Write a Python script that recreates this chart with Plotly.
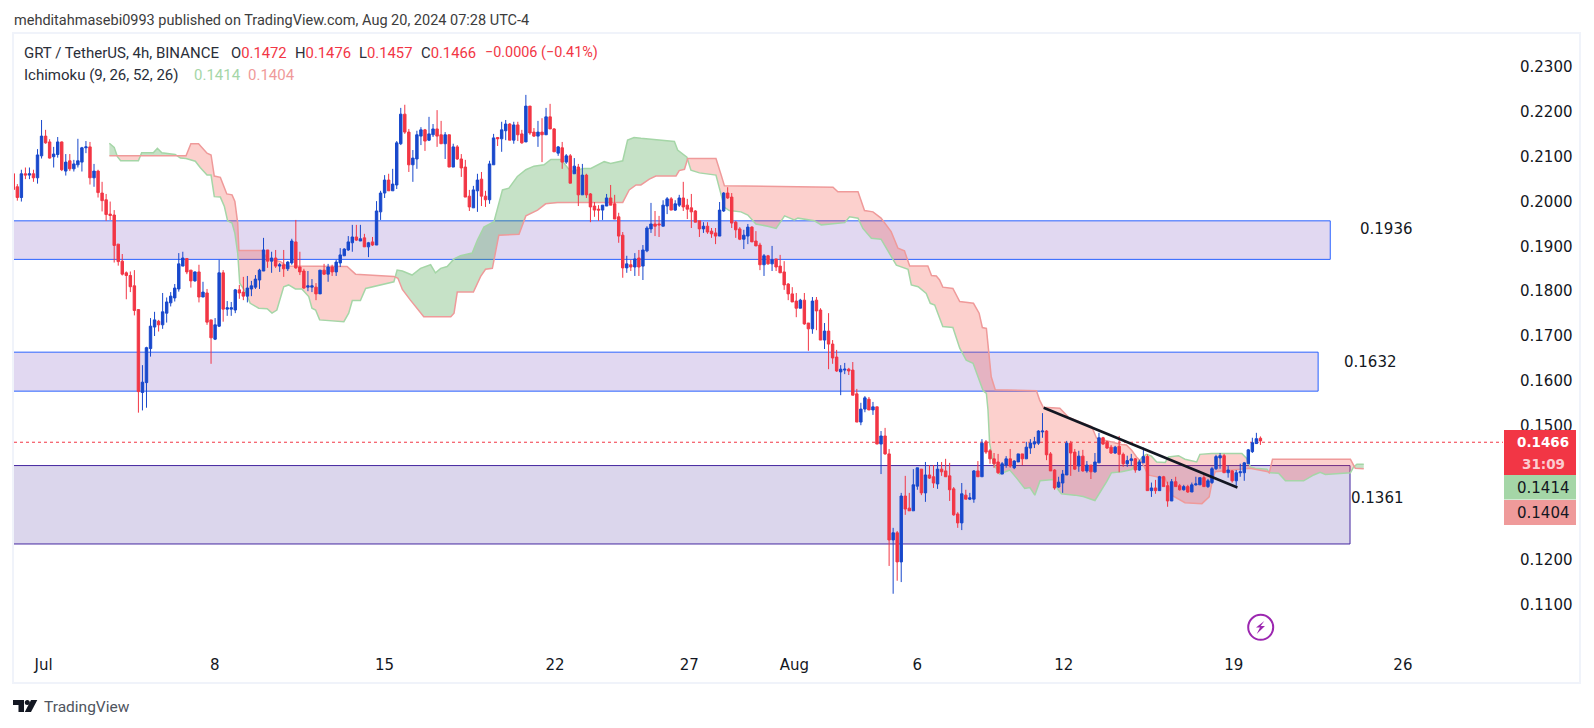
#!/usr/bin/env python3
# GRT / USDT 4h chart with Ichimoku cloud and three marked zones
import numpy as np
import plotly.graph_objects as go

# =============================================================================
# CANDLES
# =============================================================================
opens = [
    .2062,.2033,.2009,.2062,.2059,.2062,.2053,.2102,.2146,.2133,
    .2100,.2105,.2133,.2068,.2091,.2073,.2082,.2088,.2120,.2122,
    .2053,.2068,.2019,.2004,.1972,.1970,.1905,.1867,.1841,.1835,
    .1812,.1759,.1574,.1596,.1672,.1720,.1733,.1725,.1751,.1774,
    .1785,.1805,.1856,.1873,.1847,.1823,.1843,.1787,.1796,.1736,
    .1693,.1722,.1841,.1760,.1760,.1758,.1803,.1798,.1789,.1805,
    .1809,.1825,.1845,.1892,.1867,.1874,.1856,.1859,.1850,.1863,
    .1910,.1854,.1845,.1809,.1809,.1809,.1794,.1847,.1838,.1854,
    .1843,.1863,.1879,.1892,.1908,.1921,.1912,.1919,.1899,.1910,
    .1903,.1977,.2019,.2048,.2024,.2037,.2129,.2195,.2155,.2082,
    .2095,.2146,.2160,.2137,.2149,.2162,.2149,.2129,.2149,.2077,
    .2122,.2095,.2077,.2012,.1986,.2024,.2050,.2012,.2004,.2082,
    .2143,.2140,.2158,.2173,.2137,.2171,.2151,.2133,.2213,.2155,
    .2146,.2155,.2149,.2189,.2162,.2108,.2120,.2088,.2102,.2062,
    .2077,.2015,.2059,.2017,.1990,.1983,.1981,.1990,.2008,.1995,
    .1966,.1925,.1852,.1859,.1854,.1874,.1856,.1890,.1939,.1950,
    .1950,.1945,.1990,.2006,.1981,.1992,.2008,.1992,.1986,.1979,
    .1957,.1939,.1945,.1934,.1930,.1923,.1979,.2019,.2010,.1954,
    .1939,.1916,.1923,.1943,.1912,.1903,.1859,.1879,.1861,.1872,
    .1856,.1843,.1816,.1794,.1778,.1762,.1780,.1729,.1716,.1780,
    .1758,.1691,.1711,.1682,.1653,.1620,.1624,.1626,.1624,.1571,
    .1508,.1537,.1559,.1535,.1542,.1459,.1477,.1437,.1245,.1261,
    .1196,.1343,.1316,.1310,.1365,.1403,.1350,.1390,.1386,.1370,
    .1403,.1399,.1388,.1359,.1303,.1283,.1345,.1336,.1336,.1399,
    .1386,.1464,.1444,.1426,.1419,.1392,.1412,.1426,.1406,.1419,
    .1437,.1426,.1450,.1459,.1461,.1486,.1488,.1437,.1401,.1363,
    .1372,.1390,.1461,.1441,.1410,.1432,.1399,.1412,.1397,.1417,
    .1473,.1464,.1452,.1439,.1454,.1436,.1415,.1422,.1426,.1401,
    .1417,.1431,.1355,.1361,.1355,.1386,.1366,.1332,.1375,.1366,
    .1357,.1364,.1352,.1368,.1368,.1384,.1364,.1373,.1404,.1428,
    .1433,.1395,.1399,.1377,.1395,.1395,.1415,.1442,.1460,.1472,
]
closes = [
    .2027,.2009,.2062,.2059,.2062,.2053,.2104,.2146,.2131,.2097,
    .2106,.2133,.2071,.2088,.2073,.2084,.2091,.2120,.2122,.2053,
    .2068,.2020,.2002,.1971,.1969,.1902,.1866,.1838,.1835,.1810,
    .1757,.1576,.1597,.1674,.1722,.1736,.1725,.1754,.1776,.1789,
    .1807,.1861,.1874,.1843,.1823,.1843,.1787,.1798,.1731,.1696,
    .1725,.1841,.1760,.1763,.1763,.1803,.1796,.1789,.1807,.1812,
    .1827,.1847,.1892,.1867,.1874,.1856,.1859,.1850,.1865,.1912,
    .1852,.1843,.1807,.1812,.1812,.1794,.1847,.1838,.1854,.1843,
    .1865,.1881,.1894,.1910,.1921,.1914,.1917,.1899,.1908,.1903,
    .1979,.2019,.2048,.2024,.2039,.2131,.2195,.2155,.2082,.2097,
    .2149,.2160,.2135,.2151,.2162,.2146,.2129,.2149,.2077,.2122,
    .2095,.2075,.2010,.1988,.2026,.2048,.2012,.2004,.2084,.2142,
    .2140,.2160,.2173,.2137,.2171,.2149,.2131,.2213,.2153,.2146,
    .2155,.2149,.2189,.2162,.2111,.2122,.2088,.2102,.2041,.2079,
    .2015,.2059,.2015,.1988,.1981,.1981,.1992,.2008,.1992,.1961,
    .1923,.1852,.1861,.1854,.1872,.1854,.1892,.1941,.1950,.1945,
    .1948,.1992,.2006,.1981,.1995,.2008,.1988,.1983,.1977,.1954,
    .1939,.1945,.1932,.1928,.1923,.1981,.2019,.2008,.1952,.1937,
    .1916,.1925,.1943,.1910,.1901,.1859,.1879,.1861,.1870,.1854,
    .1841,.1814,.1794,.1776,.1762,.1780,.1727,.1716,.1778,.1756,
    .1691,.1711,.1682,.1651,.1622,.1626,.1626,.1622,.1568,.1508,
    .1537,.1562,.1535,.1542,.1459,.1477,.1437,.1245,.1261,.1196,
    .1343,.1314,.1310,.1368,.1406,.1350,.1390,.1383,.1372,.1403,
    .1397,.1386,.1357,.1301,.1283,.1348,.1336,.1339,.1399,.1386,
    .1461,.1441,.1426,.1415,.1395,.1415,.1426,.1410,.1421,.1437,
    .1426,.1452,.1461,.1464,.1488,.1488,.1435,.1399,.1361,.1374,
    .1392,.1461,.1439,.1403,.1432,.1399,.1412,.1397,.1419,.1473,
    .1459,.1450,.1439,.1452,.1436,.1415,.1422,.1426,.1401,.1419,
    .1431,.1355,.1361,.1355,.1386,.1364,.1332,.1375,.1364,.1357,
    .1364,.1352,.1368,.1370,.1384,.1364,.1377,.1404,.1431,.1433,
    .1395,.1401,.1377,.1395,.1397,.1417,.1446,.1462,.1471,.1466,
]
highs = [
    .2062,.2039,.2071,.2076,.2076,.2071,.2117,.2182,.2160,.2139,
    .2122,.2144,.2134,.2106,.2106,.2093,.2140,.2122,.2135,.2133,
    .2084,.2071,.2044,.2017,.2000,.1981,.1905,.1883,.1844,.1844,
    .1847,.1760,.1635,.1676,.1740,.1754,.1736,.1796,.1786,.1798,
    .1816,.1885,.1888,.1874,.1847,.1844,.1859,.1821,.1805,.1736,
    .1740,.1870,.1847,.1778,.1776,.1805,.1814,.1832,.1834,.1823,
    .1836,.1850,.1919,.1892,.1888,.1892,.1863,.1892,.1867,.1917,
    .1959,.1888,.1850,.1845,.1827,.1818,.1847,.1861,.1861,.1859,
    .1870,.1896,.1896,.1923,.1948,.1948,.1948,.1928,.1910,.1921,
    .2001,.2024,.2059,.2062,.2073,.2135,.2209,.2216,.2162,.2115,
    .2158,.2166,.2162,.2189,.2173,.2204,.2180,.2155,.2149,.2129,
    .2126,.2106,.2093,.2026,.2035,.2062,.2066,.2024,.2091,.2151,
    .2144,.2178,.2182,.2175,.2178,.2178,.2160,.2238,.2213,.2164,
    .2180,.2186,.2209,.2218,.2164,.2124,.2133,.2106,.2106,.2097,
    .2084,.2084,.2062,.2019,.1999,.1992,.1992,.2017,.2037,.2015,
    .1975,.1932,.1879,.1870,.1885,.1892,.1903,.1945,.1997,.1979,
    .1968,.2003,.2010,.2010,.2003,.2015,.2044,.2006,.2017,.1981,
    .1957,.1954,.1954,.1941,.1941,.1999,.2021,.2032,.2019,.1957,
    .1943,.1937,.1950,.1945,.1934,.1908,.1883,.1881,.1901,.1872,
    .1881,.1867,.1818,.1809,.1796,.1783,.1796,.1729,.1787,.1787,
    .1762,.1729,.1751,.1691,.1669,.1635,.1640,.1629,.1642,.1582,
    .1551,.1566,.1564,.1553,.1542,.1488,.1495,.1448,.1272,.1265,
    .1350,.1388,.1350,.1403,.1406,.1403,.1419,.1412,.1412,.1419,
    .1419,.1426,.1417,.1363,.1307,.1372,.1357,.1350,.1401,.1421,
    .1470,.1468,.1448,.1439,.1437,.1419,.1432,.1448,.1423,.1437,
    .1437,.1464,.1470,.1475,.1490,.1528,.1490,.1441,.1403,.1386,
    .1401,.1466,.1466,.1448,.1444,.1446,.1421,.1412,.1439,.1484,
    .1475,.1466,.1457,.1455,.1477,.1440,.1433,.1437,.1428,.1424,
    .1451,.1436,.1373,.1379,.1388,.1388,.1375,.1381,.1386,.1370,
    .1368,.1368,.1373,.1386,.1384,.1390,.1381,.1408,.1435,.1439,
    .1437,.1410,.1401,.1401,.1415,.1419,.1448,.1473,.1484,.1476,
]
lows = [
    .2026,.2002,.2000,.2050,.2050,.2044,.2040,.2096,.2129,.2096,
    .2076,.2098,.2068,.2058,.2068,.2067,.2076,.2067,.2108,.2038,
    .2033,.2009,.1978,.1957,.1959,.1864,.1857,.1835,.1782,.1798,
    .1746,.1529,.1534,.1540,.1654,.1700,.1710,.1716,.1730,.1766,
    .1777,.1799,.1856,.1838,.1808,.1821,.1775,.1787,.1725,.1638,
    .1691,.1720,.1732,.1745,.1745,.1751,.1783,.1780,.1775,.1789,
    .1805,.1805,.1845,.1852,.1841,.1852,.1843,.1832,.1845,.1859,
    .1850,.1836,.1805,.1800,.1798,.1780,.1794,.1836,.1821,.1834,
    .1834,.1854,.1879,.1890,.1888,.1912,.1912,.1899,.1876,.1901,
    .1903,.1959,.2008,.2024,.2024,.2028,.2126,.2151,.2066,.2044,
    .2073,.2126,.2113,.2135,.2144,.2122,.2129,.2095,.2077,.2077,
    .2093,.2055,.2010,.1979,.1986,.1977,.1990,.1988,.1995,.2082,
    .2124,.2111,.2137,.2137,.2129,.2135,.2129,.2133,.2149,.2144,
    .2122,.2088,.2149,.2162,.2111,.2102,.2073,.2084,.2041,.2062,
    .1990,.2015,.2008,.1954,.1966,.1957,.1959,.1990,.1992,.1961,
    .1908,.1830,.1841,.1845,.1834,.1834,.1825,.1887,.1930,.1923,
    .1921,.1945,.1972,.1981,.1979,.1988,.1979,.1961,.1941,.1954,
    .1921,.1930,.1928,.1919,.1905,.1923,.1977,.2006,.1941,.1919,
    .1914,.1894,.1905,.1910,.1901,.1847,.1834,.1859,.1845,.1845,
    .1841,.1803,.1780,.1776,.1742,.1762,.1725,.1667,.1705,.1713,
    .1691,.1671,.1626,.1638,.1620,.1568,.1615,.1613,.1568,.1508,
    .1501,.1530,.1535,.1524,.1459,.1392,.1435,.1187,.1125,.1154,
    .1151,.1301,.1310,.1310,.1357,.1345,.1330,.1381,.1361,.1359,
    .1388,.1386,.1332,.1299,.1272,.1267,.1336,.1334,.1328,.1386,
    .1386,.1437,.1415,.1406,.1392,.1392,.1406,.1406,.1403,.1419,
    .1412,.1426,.1437,.1450,.1457,.1473,.1423,.1399,.1357,.1361,
    .1350,.1390,.1388,.1401,.1397,.1397,.1395,.1381,.1395,.1417,
    .1457,.1448,.1437,.1437,.1396,.1408,.1408,.1410,.1395,.1399,
    .1417,.1355,.1341,.1348,.1355,.1364,.1319,.1332,.1364,.1355,
    .1355,.1350,.1352,.1366,.1368,.1364,.1361,.1370,.1401,.1404,
    .1395,.1384,.1373,.1366,.1386,.1377,.1415,.1439,.1460,.1457,
]
assert len(opens) == len(closes) == len(highs) == len(lows)

# =============================================================================
# ICHIMOKU LINES (bar number, price)
# =============================================================================
span_a_x = [
    23.8,25,25.8,26.6,31,31.8,34.7,35.7,36.8,40.1,41.4,42.8,45.1,46.3,48,49,49.8,51.3,52.3,53.1,
    54.2,54.9,55.6,56.1,57.5,58.7,60.8,62.9,64.1,65.3,67,68.2,69.9,71.5,73.2,74,74.9,75.9,81.9,83.1,
    84,86,87.3,91,93.1,94.3,95.1,96.4,98.8,100.9,103.4,104.6,105.9,107.5,109.2,110.8,113.7,115,116.6,119.1,
    121.2,122.8,124.9,127,129,131.5,133.2,135.7,138.1,141.4,143.1,146.4,148,151,152.2,153.8,155.5,160.5,163.8,164.6,
    165.8,166.9,167.9,170,174.1,175.4,176.2,177.4,180.3,182,184,186.9,189,191.1,192.3,193.5,194.4,198.5,200.2,206,
    207.2,209.3,210.5,212.6,215,218.8,221.7,222.5,224.2,226.2,227.2,228.3,230.3,232.8,234.5,236.1,237.8,239,240.3,241.1,
    241.5,241.9,242.8,244.4,246.9,248.6,250.6,251.9,253.1,254.4,256.4,257.7,258.9,259.7,263,265.1,268,269.7,270.9,272.1,
    274.6,277.1,278.7,280,280.8,282,283.3,285.4,286.2,288.7,290.3,293.2,294,296.9,302.7,304.4,305.6,306.5,307.7,310.6,
    311.2,313.5,315.2,319.7,322.2,323.8,325.1,329.2,331.3,332.1,332.9,334.6,
]
span_a = [
    .2130,.2121,.2100,.2091,.2091,.2109,.2109,.2119,.2109,.2105,.2097,.2096,.2090,.2076,.2059,.2059,.2011,.2010,.1989,.1957,
    .1952,.1929,.1885,.1818,.1799,.1773,.1762,.1761,.1751,.1758,.1810,.1814,.1805,.1805,.1788,.1762,.1758,.1736,.1732,.1751,
    .1779,.1779,.1806,.1814,.1819,.1821,.1847,.1845,.1836,.1851,.1859,.1841,.1851,.1855,.1872,.1879,.1885,.1914,.1943,.1955,
    .2026,.2030,.2056,.2071,.2079,.2082,.2094,.2094,.2067,.2074,.2074,.2089,.2085,.2091,.2137,.2143,.2141,.2137,.2134,.2115,
    .2106,.2099,.2070,.2064,.2059,.2018,.1987,.1980,.1977,.1970,.1950,.1945,.1940,.1968,.1963,.1959,.1963,.1957,.1948,.1953,
    .1966,.1963,.1940,.1918,.1916,.1858,.1849,.1814,.1810,.1795,.1773,.1769,.1721,.1719,.1673,.1646,.1639,.1609,.1578,.1572,
    .1535,.1461,.1416,.1392,.1401,.1383,.1360,.1362,.1345,.1377,.1379,.1380,.1357,.1348,.1345,.1342,.1333,.1357,.1375,.1395,
    .1397,.1402,.1419,.1432,.1436,.1432,.1419,.1418,.1430,.1433,.1425,.1419,.1436,.1438,.1438,.1438,.1427,.1408,.1405,.1403,
    .1395,.1394,.1377,.1377,.1390,.1396,.1391,.1394,.1395,.1408,.1414,.1414,
]
span_b_x = [
    23.8,42.8,44,45.9,48,49,49.8,51.3,52.9,54.2,54.9,55.6,55.9,61.6,62.9,66.2,67.8,82.7,84.8,91,
    94.3,95.3,96.4,98.4,101.7,108.4,109.2,110,114,115.8,117,118.7,120.3,125.3,127,129.9,131.9,134.8,151,152.6,
    154.3,155.5,157.6,159.2,164.2,165,166.3,167.1,174.1,175.4,176.2,203.1,204.3,209.3,210.9,213,215,217.5,219.2,220.8,
    222.1,226.6,227.5,228.7,229.5,230.3,232.8,234.5,237.9,239.3,240.1,241.1,241.8,242.3,243.3,253.5,254.3,255.2,259.3,261.4,
    265.5,267.2,268.4,270.1,272.2,274.6,275.8,277.1,278.3,279.6,280.4,281.1,285.4,287,290.3,294.5,296.3,297.1,297.8,303.5,
    306.4,310.9,311.2,312,331.3,332.5,334.6,
]
span_b = [
    .2102,.2102,.2129,.2129,.2108,.2104,.2057,.2054,.2017,.2015,.2000,.1952,.1891,.1891,.1873,.1866,.1856,.1855,.1838,.1834,
    .1833,.1829,.1804,.1780,.1743,.1743,.1751,.1798,.1798,.1833,.1849,.1851,.1925,.1927,.1968,.1981,.1995,.1998,.1998,.2026,
    .2037,.2037,.2050,.2057,.2057,.2069,.2072,.2096,.2096,.2059,.2035,.2032,.2022,.2022,.1980,.1977,.1963,.1933,.1896,.1890,
    .1856,.1856,.1835,.1834,.1825,.1809,.1806,.1777,.1773,.1751,.1719,.1717,.1661,.1609,.1580,.1578,.1557,.1541,.1539,.1519,
    .1504,.1498,.1472,.1468,.1464,.1458,.1457,.1445,.1430,.1418,.1405,.1390,.1382,.1345,.1328,.1326,.1341,.1378,.1397,.1402,
    .1405,.1397,.1395,.1425,.1425,.1405,.1404,
]

# =============================================================================
# ZONES, TREND LINE, LABELS
# =============================================================================
zone_tops = [.1957, .1664, .1411]
zone_bottoms = [.1871, .1577, .1236]
zone_ends = [326.3, 323.3, 331.2]
zone_labels = ["0.1936", "0.1632", "0.1361"]

trend_x = [255.3, 303.3]
trend_y = [.1540, .1362]

x_tick_vals = [7.5, 49.9, 92, 134.2, 167.5, 193.5, 224, 260.3, 302.4, 344.3]
x_tick_text = ["Jul", "8", "15", "22", "27", "Aug", "6", "12", "19", "26"]
y_tick_vals = [.11, .12, .13, .14, .15, .16, .17, .18, .19, .20, .21, .22, .23]

last_price = .1466
price_line = .1463
span_a_last = "0.1414"
span_b_last = "0.1404"
countdown = "31:09"

# =============================================================================
# COLOURS / PAGE GEOMETRY
# =============================================================================
WIDTH, HEIGHT = 1594, 728
L, R, T, B = 14, 1503, 34, 645
FONT = "Roboto"
AXIS_FONT = "DejaVu Sans"
TEXT = "#2a2e39"
UP = "#1848CC"
DOWN = "#F23645"
SPAN_A = "#A5D6A7"
SPAN_B = "#EF9A9A"
FILL_A = "rgba(67,160,71,0.3)"
FILL_B = "rgba(244,67,54,0.25)"
ICON = "#9C27B0"


def px(x):
    return (x - L) / (R - L)


def py(y):
    return 1 - (y - T) / (B - T)


# y axis: 0.23 sits at pixel 67.1, 0.01 is 44.82 pixels
Y_RANGE = [.23 - (B - 67.1) / 4482, .23 + (67.1 - T) / 4482]
X_RANGE = [(L - 13.3) / 4.036, (R - 13.3) / 4.036]


def cloud_polygons():
    """Split the area between the two spans where they swap over"""
    start, end = max(span_a_x[0], span_b_x[0]), min(span_a_x[-1], span_b_x[-1])
    u = sorted(set(x for x in span_a_x + span_b_x if start <= x <= end))
    a = np.interp(u, span_a_x, span_a)
    b = np.interp(u, span_b_x, span_b)
    polys = []
    xs, tops, bots = [u[0]], [a[0]], [b[0]]
    for i in range(1, len(u)):
        if (a[i - 1] - b[i - 1]) * (a[i] - b[i]) < 0:
            d0, d1 = a[i - 1] - b[i - 1], a[i] - b[i]
            f = d0 / (d0 - d1)
            xc = u[i - 1] + f * (u[i] - u[i - 1])
            yc = a[i - 1] + f * (a[i] - a[i - 1])
            xs.append(xc); tops.append(yc); bots.append(yc)
            polys.append((xs, tops, bots, d0 > 0))
            xs, tops, bots = [xc], [yc], [yc]
        xs.append(u[i]); tops.append(a[i]); bots.append(b[i])
    polys.append((xs, tops, bots, a[-1] > b[-1]))
    return polys


fig = go.Figure()

# cloud on the main axes, candles on an overlay so they stay on top of it
for xs, tops, bots, green in cloud_polygons():
    fig.add_trace(go.Scatter(
        x=list(xs) + list(xs)[::-1], y=list(tops) + list(bots)[::-1],
        mode="lines", line=dict(width=0), fill="toself",
        fillcolor=FILL_A if green else FILL_B, hoverinfo="skip", showlegend=False))
fig.add_trace(go.Scatter(x=span_a_x, y=span_a, mode="lines", line=dict(color=SPAN_A, width=1.5),
                         hoverinfo="skip", showlegend=False))
fig.add_trace(go.Scatter(x=span_b_x, y=span_b, mode="lines", line=dict(color=SPAN_B, width=1.5),
                         hoverinfo="skip", showlegend=False))

fig.add_trace(go.Candlestick(
    x=list(range(len(opens))), open=opens, high=highs, low=lows, close=closes,
    increasing=dict(line=dict(color=UP, width=1), fillcolor=UP),
    decreasing=dict(line=dict(color=DOWN, width=1), fillcolor=DOWN),
    whiskerwidth=0, xaxis="x2", yaxis="y2", showlegend=False, hoverinfo="skip"))
fig.add_trace(go.Scatter(x=trend_x, y=trend_y, mode="lines", line=dict(color="#131722", width=2.5),
                         xaxis="x2", yaxis="y2", hoverinfo="skip", showlegend=False))

shapes = []
annotations = []


def text(x, y, s, size=15, color=TEXT, anchor="left", family=FONT):
    annotations.append(dict(xref="paper", yref="paper", x=px(x), y=py(y), text=s, showarrow=False,
                            xanchor=anchor, yanchor="middle", align="left", xshift=0, borderpad=0,
                            font=dict(family=family, size=size, color=color)))


def box(x0, y0, x1, y1, color):
    shapes.append(dict(type="rect", xref="paper", yref="paper", x0=px(x0), x1=px(x1), y0=py(y0), y1=py(y1),
                       fillcolor=color, line=dict(width=0), layer="above"))


def poly(points, color):
    path = "M" + " L".join(f"{px(x):.5f},{py(y):.5f}" for x, y in points) + " Z"
    shapes.append(dict(type="path", xref="paper", yref="paper", path=path, fillcolor=color,
                       line=dict(width=0), layer="above"))


# zones
for i in range(3):
    dark = i == 2
    shapes.append(dict(type="rect", xref="x", yref="y", x0=-5, x1=zone_ends[i], y0=zone_bottoms[i], y1=zone_tops[i],
                       fillcolor="rgba(74,50,160,0.2)" if dark else "rgba(103,58,183,0.2)",
                       line=dict(color="#4527A0" if dark else "#2962FF", width=1), layer="below"))

# last price dotted line
shapes.append(dict(type="line", xref="paper", yref="y", x0=0, x1=1, y0=price_line, y1=price_line,
                   line=dict(color=DOWN, width=1, dash="dot"), layer="below"))

# outer frame
shapes.append(dict(type="rect", xref="paper", yref="paper", x0=px(13), x1=px(1580), y0=py(33), y1=py(683),
                   line=dict(color="#F0F3FA", width=2), layer="above"))

# price labels on the right
box(1504, 430, 1576, 475, DOWN)
box(1504, 475, 1576, 499.5, SPAN_A)
box(1504, 500, 1576, 525, SPAN_B)
text(1543, 442, f"<b>{last_price:.4f}</b>", 13.5, "#ffffff", "center", AXIS_FONT)
text(1543, 463.5, f"<b>{countdown}</b>", 13.5, "rgba(255,255,255,0.75)", "center", AXIS_FONT)
text(1543, 488, span_a_last, 15, "#131722", "center", AXIS_FONT)
text(1543, 512.5, span_b_last, 15, "#131722", "center", AXIS_FONT)

# zone labels
text(1386, 228.7, zone_labels[0], 15, "#131722", "center", AXIS_FONT)
text(1370.5, 362, zone_labels[1], 15, "#131722", "center", AXIS_FONT)
text(1377.5, 498, zone_labels[2], 15, "#131722", "center", AXIS_FONT)

# headers
text(13, 20, "mehditahmasebi0993 published on TradingView.com, Aug 20, 2024 07:28 UTC-4", 14.5, "#3c3c3c")
text(23, 53, "GRT / TetherUS, 4h, BINANCE")
for x, head, val in [(230, "O", "0.1472"), (294, "H", "0.1476"), (358, "L", "0.1457"), (420, "C", "0.1466")]:
    text(x, 53, head + f'<span style="color:{DOWN}">{val}</span>', 14.8)
text(484, 53, "−0.0006 (−0.41%)", 14.4, DOWN)
text(23, 75, "Ichimoku (9, 26, 52, 26)")
text(193, 75, span_a_last, 15, SPAN_A)
text(247, 75, span_b_last, 15, SPAN_B)

# TradingView logo
poly([(13, 700), (24, 700), (24, 712), (18.5, 712), (18.5, 705), (13, 705)], "#131722")
shapes.append(dict(type="circle", xref="paper", yref="paper", x0=px(24.8), x1=px(29.8), y0=py(705), y1=py(700),
                   fillcolor="#131722", line=dict(width=0), layer="above"))
poly([(31, 700), (37.3, 700), (31, 712), (24.8, 712)], "#131722")
text(43, 707, "TradingView", 15.5, "#4f5560")

# lightning icon
shapes.append(dict(type="circle", xref="paper", yref="paper", x0=px(1248.2), x1=px(1273.2), y0=py(639.8), y1=py(614.8),
                   line=dict(color=ICON, width=2), fillcolor="rgba(0,0,0,0)", layer="above"))
poly([(1264.3, 621), (1256, 627.5), (1260, 627.5), (1256.7, 634), (1265, 626), (1260.7, 626)], ICON)

tick_font = dict(family=AXIS_FONT, size=15, color="#131722")
fig.update_layout(
    width=WIDTH, height=HEIGHT, autosize=False,
    margin=dict(l=L, r=WIDTH - R, t=T, b=HEIGHT - B, pad=0),
    paper_bgcolor="white", plot_bgcolor="white", showlegend=False,
    boxgap=0.4, boxgroupgap=0,
    shapes=shapes, annotations=annotations,
    xaxis=dict(range=X_RANGE, showgrid=False, zeroline=False, showline=False, tickmode="array",
               tickvals=x_tick_vals, ticktext=x_tick_text, ticks="outside", ticklen=6,
               tickcolor="rgba(0,0,0,0)", tickfont=tick_font, rangeslider=dict(visible=False)),
    yaxis=dict(range=Y_RANGE, side="right", showgrid=False, zeroline=False, showline=False, tickmode="array",
               tickvals=y_tick_vals, ticktext=[f"{v:.4f}" for v in y_tick_vals], ticks="outside", ticklen=13,
               tickcolor="rgba(0,0,0,0)", tickfont=tick_font),
    xaxis2=dict(range=X_RANGE, overlaying="x", visible=False, rangeslider=dict(visible=False)),
    yaxis2=dict(range=Y_RANGE, overlaying="y", visible=False),
)

fig.write_html("out.html", config={"displayModeBar": False}, post_script="document.body.style.margin='0';")
